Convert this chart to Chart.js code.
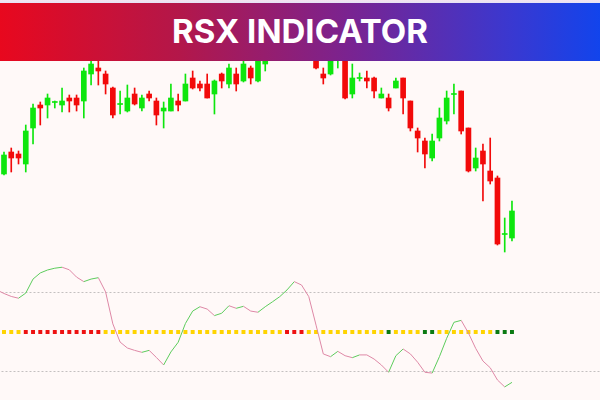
<!DOCTYPE html>
<html>
<head>
<meta charset="utf-8">
<script src="https://cdn.jsdelivr.net/npm/chart.js@4.4.1/dist/chart.umd.min.js"></script>
<style>
  html, body { margin: 0; padding: 0; background: #fff9f8; }
  #wrap { position: relative; width: 600px; height: 400px; overflow: hidden; }
  #chart { position: absolute; left: 0; top: 0; }
  #banner {
    position: absolute; left: 0; top: 0; width: 600px; height: 61px;
    background: linear-gradient(to bottom, #f4e4ee 0, #e6e2f6 3px, transparent 3px),
                linear-gradient(to right, #e8081e 0%, #b3174a 30%, #7a2390 58%, #3a38d0 85%, #1244ec 100%);
    color: #fff; font-family: "Inter", "Open Sans", sans-serif; font-weight: 700;
    font-size: 33px; text-align: center; line-height: 61px; padding-top: 1px; box-sizing: border-box;
  }
</style>
</head>
<body>
<div id="wrap">
  <canvas id="chart" width="600" height="400"></canvas>
  <div id="banner">RSX INDICATOR</div>
</div>
<script>
document.addEventListener('DOMContentLoaded', function() {
    // candles, one per bar index
    const opens  = [226, 248, 246, 236, 272, 295, 295, 297.5, 295, 302, 302, 299, 326, 332, 326, 312, 295.5, 289, 306, 292,
                    306, 299, 289, 289, 299, 299, 322, 316, 316, 306, 326, 316, 326, 319, 332, 319, 336, 345, 360, 350,
                    365, 375, 360, 350, 326, 326, 343, 355, 306, 321.5, 322, 322, 302, 302, 312, 322, 299, 269, 259, 242,
                    262, 279, 305.5, 309, 272, 232, 249, 229, 222, 165.5, 162];
    const highs  = [248, 252, 249, 275, 296, 298, 306, 299, 312, 305, 305, 332, 340, 342, 329, 313, 309, 315, 312, 305,
                    309, 302, 298, 316, 306, 326, 329, 319, 326, 320, 327, 336, 332, 344, 334, 350, 355, 365, 370, 372,
                    380, 380, 365, 355, 332, 350, 360, 360, 336, 327, 329, 323, 312, 306, 322, 322, 299, 272, 262, 266,
                    292, 309, 316, 309, 272, 252, 256, 262, 224, 182, 199];
    const lows   = [225, 228, 236, 228, 256, 275, 282, 292, 288, 288, 289, 282, 315, 315, 306, 282, 286, 288, 295, 289,
                    299, 275, 272, 289, 289, 299, 311, 309, 302, 286, 312, 312, 309, 318, 316, 318, 329, 343, 345, 345,
                    355, 348, 343, 331, 316, 325, 332, 301, 302, 319, 312, 302, 302, 289, 312, 286, 269, 248, 232, 239,
                    259, 276, 286, 266, 228, 229, 199, 216, 155, 148, 159];
    const closes = [245, 242, 242, 269, 292, 292, 302, 298.5, 299, 299, 295, 329, 336, 329, 316, 285, 296.5, 302, 296, 302,
                    302, 285, 292, 302, 295, 316, 312, 312, 302, 319, 319, 332, 316, 336, 322, 345, 350, 360, 350, 365,
                    375, 355, 350, 332, 322, 345, 355, 302, 322, 322.5, 319, 309, 306, 292, 319, 302, 272, 262, 246, 259,
                    282, 302, 306.5, 269, 229, 242, 236, 219, 156, 166.5, 189];

    // RSX oscillator, starting one bar before the first candle
    const rsx = [71.3, 69.5, 68.0, 67.1, 69.7, 76.8, 79.9, 81.4, 82.3, 82.8, 81.5, 77.8, 75.5, 76.8, 77.5, 70.3, 54.1, 44.9,
                 41.9, 40.7, 39.7, 40.7, 37.1, 33.3, 39.9, 44.8, 54.3, 60.6, 62.8, 61.6, 58.3, 59.5, 63.3, 62.0, 63.0, 60.6,
                 60.0, 62.8, 65.3, 67.9, 71.3, 75.5, 73.8, 67.9, 53.5, 38.9, 37.5, 40.2, 38.0, 37.0, 38.4, 38.4, 36.3, 33.3,
                 29.6, 38.0, 41.4, 38.9, 34.7, 29.6, 29.2, 37.5, 46.8, 54.9, 55.9, 49.5, 41.7, 35.3, 31.9, 25.7, 22.2, 24.5];

    // signal state per bar: 0 neutral, 1 overbought, -1 oversold
    const signal = [0, 0, 0, 1, 1, 1, 1, 1, 1, 1, 1, 1, 1, 1, 0, 0, 0, 0, 0, 0,
                    0, 0, 0, 0, 0, 0, 0, 0, 0, 0, 0, 0, 0, 0, 0, 0, 0, 0, 0, 1,
                    1, 1, 0, 0, 0, 0, 0, 0, 0, 0, 0, 0, 0, -1, 0, 0, 0, 0, -1, -1,
                    0, 0, 0, 0, 0, 0, 0, 0, -1, -1, -1];

    const levels = [70, 30];
    const midLevel = 50;

    const UP = '#0ee60e';
    const DOWN = '#f20a0a';
    const sigColors = { '0': '#ffd400', '1': '#ee1111', '-1': '#0b7a12' };

    const bodies = opens.map((o, i) => ({ x: i, y: [o, closes[i]] }));
    const wicks = highs.map((h, i) => ({ x: i, y: [lows[i], h] }));
    const candleColor = ctx => {
        const i = ctx.dataIndex;
        return closes[i] >= opens[i] ? UP : DOWN;
    };

    const rsxPoints = rsx.map((v, i) => ({ x: i - 1, y: v }));
    const sigPoints = signal.map((s, i) => ({ x: i, y: midLevel }));

    const levelSets = levels.map(lv => ({
        type: 'line',
        data: [{ x: -2, y: lv }, { x: 90, y: lv }],
        yAxisID: 'yr',
        borderColor: '#c4c0c0',
        borderWidth: 1,
        borderDash: [2, 2],
        pointRadius: 0,
        order: 5
    }));

    const ctx = document.getElementById('chart').getContext('2d');
    new Chart(ctx, {
        type: 'bar',
        data: {
            datasets: [
                {
                    data: wicks,
                    yAxisID: 'yp',
                    backgroundColor: candleColor,
                    barThickness: 1,
                    grouped: false,
                    borderWidth: 0,
                    order: 3
                },
                {
                    data: bodies,
                    yAxisID: 'yp',
                    backgroundColor: candleColor,
                    barThickness: 5,
                    grouped: false,
                    borderWidth: 0,
                    order: 2
                },
                ...levelSets,
                {
                    type: 'line',
                    data: sigPoints,
                    yAxisID: 'yr',
                    showLine: false,
                    pointStyle: 'rect',
                    pointRadius: 2.8,
                    pointBorderWidth: 0,
                    pointBackgroundColor: signal.map(s => sigColors[String(s)]),
                    order: 1
                },
                {
                    type: 'line',
                    data: rsxPoints,
                    yAxisID: 'yr',
                    borderWidth: 1,
                    pointRadius: 0,
                    tension: 0,
                    segment: {
                        borderColor: c => c.p1.parsed.y > c.p0.parsed.y ? '#5ccc5c' : '#de88a6'
                    },
                    order: 0
                }
            ]
        },
        options: {
            responsive: false,
            animation: false,
            devicePixelRatio: 1,
            layout: { padding: 0, autoPadding: false },
            plugins: { legend: { display: false }, tooltip: { enabled: false } },
            scales: {
                x: { type: 'linear', min: -0.551, max: 82.13, offset: false, display: false },
                yp: { type: 'linear', min: 0, max: 400, display: false },
                yr: { type: 'linear', min: 15.57, max: 218.1, display: false }
            }
        }
    });
});
</script>
</body>
</html>
